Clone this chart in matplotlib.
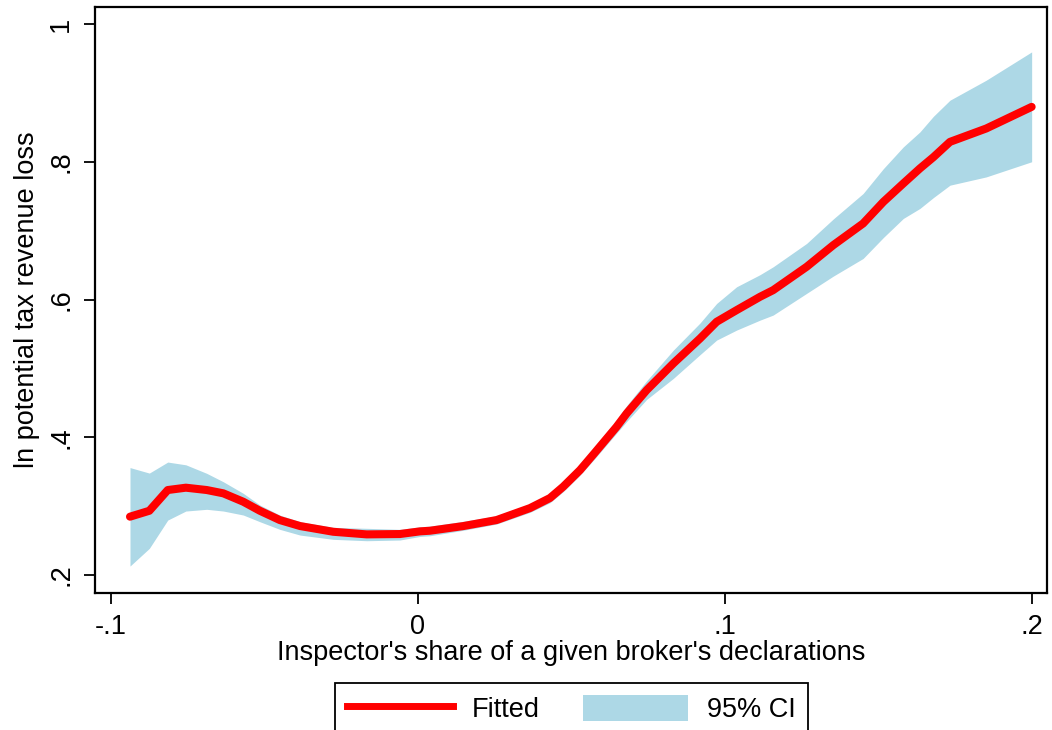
import matplotlib.pyplot as plt
from matplotlib.patches import Patch
from matplotlib.lines import Line2D

plt.rcParams['font.family'] = ['Liberation Sans', 'DejaVu Sans']

# inspector share grid and local-poly fit with 95% CI
share = [-0.0938, -0.0875, -0.0815, -0.0756, -0.0688, -0.0634, -0.0569, -0.0515,
         -0.0450, -0.0384, -0.0276, -0.0167, -0.0059, 0.0007, 0.0039, 0.0148,
         0.0256, 0.0365, 0.0430, 0.0473, 0.0528, 0.0576, 0.0647, 0.0680,
         0.0745, 0.0832, 0.0919, 0.0973, 0.1038, 0.1114, 0.1157, 0.1266, 0.1353,
         0.1450, 0.1516, 0.1581, 0.1635, 0.1679, 0.1733, 0.1851, 0.1999]
fitted = [0.2847, 0.2933, 0.3234, 0.3268, 0.3234, 0.3186, 0.3064, 0.2933,
          0.2798, 0.2711, 0.2628, 0.2590, 0.2595, 0.2634, 0.2643, 0.2711,
          0.2798, 0.2972, 0.3118, 0.3282, 0.3524, 0.3775, 0.4152, 0.4347,
          0.4685, 0.5073, 0.5435, 0.5677, 0.5846, 0.6039, 0.6136, 0.6475, 0.6790,
          0.7104, 0.7418, 0.7685, 0.7903, 0.8067, 0.8289, 0.8483, 0.8797]
ci_low = [0.2130, 0.2387, 0.2798, 0.2929, 0.2954, 0.2929, 0.2871, 0.2774,
          0.2663, 0.2580, 0.2518, 0.2498, 0.2508, 0.2560, 0.2570, 0.2650,
          0.2740, 0.2910, 0.3050, 0.3210, 0.3450, 0.3690, 0.4060, 0.4230,
          0.4550, 0.4855, 0.5200, 0.5411, 0.5556, 0.5700, 0.5774, 0.6089, 0.6340,
          0.6596, 0.6900, 0.7177, 0.7322, 0.7480, 0.7660, 0.7780, 0.8000]
ci_high = [0.3560, 0.3480, 0.3640, 0.3600, 0.3476, 0.3354, 0.3186, 0.3016,
           0.2870, 0.2774, 0.2692, 0.2678, 0.2663, 0.2700, 0.2710, 0.2780,
           0.2860, 0.3030, 0.3180, 0.3350, 0.3600, 0.3865, 0.4250, 0.4460,
           0.4820, 0.5266, 0.5660, 0.5943, 0.6185, 0.6360, 0.6475, 0.6814, 0.7170,
           0.7539, 0.7900, 0.8216, 0.8433, 0.8660, 0.8894, 0.9184, 0.9595]

x_ticks = [-0.1, 0, 0.1, 0.2]
x_ticklabels = ['-.1', '0', '.1', '.2']
y_ticks = [0.2, 0.4, 0.6, 0.8, 1.0]
y_ticklabels = ['.2', '.4', '.6', '.8', '1']

band_color = '#add8e6'
line_color = '#ff0000'

fig = plt.figure(figsize=(10.52, 7.30), dpi=100)
ax = fig.add_axes([95 / 1052, 1 - 593 / 730, (1047 - 95) / 1052, (593 - 7) / 730])

ax.fill_between(share, ci_low, ci_high, color=band_color, linewidth=0)
ax.plot(share, fitted, color=line_color, linewidth=5.8, solid_capstyle='round',
        solid_joinstyle='round')

ax.set_xlim(-0.1052, 0.2049)
ax.set_ylim(0.1739, 1.0247)
ax.set_xticks(x_ticks)
ax.set_xticklabels(x_ticklabels)
ax.set_yticks(y_ticks)
ax.set_yticklabels(y_ticklabels, rotation=90, va='center')
ax.tick_params(axis='both', labelsize=19.5, length=8, width=1.3, color='black')
ax.tick_params(axis='x', pad=7)
ax.tick_params(axis='y', pad=7)
for s in ax.spines.values():
    s.set_linewidth(1.6)
    s.set_color('black')

ax.set_xlabel("Inspector's share of a given broker's declarations", fontsize=19.5, labelpad=0)
ax.set_ylabel("ln potential tax revenue loss", fontsize=19.5, labelpad=6)

handles = [Line2D([], [], color=line_color, linewidth=5),
           Patch(facecolor=band_color, edgecolor='none')]
leg = fig.legend(handles, ['Fitted', '95% CI'], loc='upper center', ncol=2,
                 bbox_to_anchor=(571.5 / 1052, 1 - 683 / 730), fontsize=19.5,
                 frameon=True, fancybox=False, edgecolor='black', framealpha=1,
                 handlelength=3.9, handleheight=1.1, handletextpad=0.7,
                 columnspacing=1.6, borderpad=0.45, borderaxespad=0)
leg.get_frame().set_linewidth(1.3)

fig.savefig('out.png', dpi=100)
